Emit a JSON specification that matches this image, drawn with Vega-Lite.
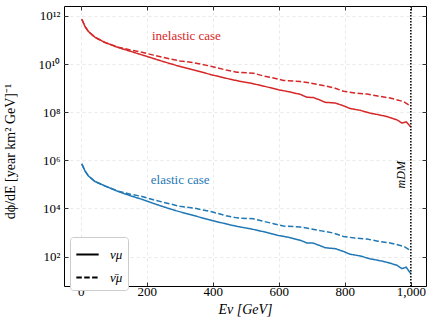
{
  "$schema": "https://vega.github.io/schema/vega-lite/v6.json",
  "width": 362,
  "height": 280,
  "autosize": "none",
  "padding": {"left": 64, "top": 6, "right": 1, "bottom": 36},
  "background": "white",
  "config": {
    "view": {"stroke": "black", "strokeWidth": 1},
    "font": "Liberation Serif",
    "axis": {
      "labelFont": "Liberation Serif", "titleFont": "Liberation Serif",
      "labelFontSize": 13, "titleFontSize": 14, "titleFontWeight": "normal",
      "labelColor": "black", "titleColor": "black",
      "domain": false, "tickColor": "black", "tickSize": -4, "tickWidth": 0.8,
      "gridColor": "#e3e3e3", "gridDash": [3, 3], "gridWidth": 0.8
    }
  },
  "datasets": {
    "curves": [
      {"E": 3, "log10_phi": 11.86, "case": "inelastic", "nu": "νμ"},
      {"E": 13, "log10_phi": 11.55, "case": "inelastic", "nu": "νμ"},
      {"E": 23, "log10_phi": 11.35, "case": "inelastic", "nu": "νμ"},
      {"E": 43, "log10_phi": 11.11, "case": "inelastic", "nu": "νμ"},
      {"E": 74, "log10_phi": 10.89, "case": "inelastic", "nu": "νμ"},
      {"E": 114, "log10_phi": 10.68, "case": "inelastic", "nu": "νμ"},
      {"E": 150, "log10_phi": 10.53, "case": "inelastic", "nu": "νμ"},
      {"E": 185, "log10_phi": 10.38, "case": "inelastic", "nu": "νμ"},
      {"E": 220, "log10_phi": 10.23, "case": "inelastic", "nu": "νμ"},
      {"E": 255, "log10_phi": 10.08, "case": "inelastic", "nu": "νμ"},
      {"E": 290, "log10_phi": 9.94, "case": "inelastic", "nu": "νμ"},
      {"E": 331, "log10_phi": 9.79, "case": "inelastic", "nu": "νμ"},
      {"E": 365, "log10_phi": 9.67, "case": "inelastic", "nu": "νμ"},
      {"E": 397, "log10_phi": 9.55, "case": "inelastic", "nu": "νμ"},
      {"E": 425, "log10_phi": 9.46, "case": "inelastic", "nu": "νμ"},
      {"E": 452, "log10_phi": 9.37, "case": "inelastic", "nu": "νμ"},
      {"E": 483, "log10_phi": 9.28, "case": "inelastic", "nu": "νμ"},
      {"E": 513, "log10_phi": 9.21, "case": "inelastic", "nu": "νμ"},
      {"E": 555, "log10_phi": 9.08, "case": "inelastic", "nu": "νμ"},
      {"E": 599, "log10_phi": 8.93, "case": "inelastic", "nu": "νμ"},
      {"E": 630, "log10_phi": 8.85, "case": "inelastic", "nu": "νμ"},
      {"E": 665, "log10_phi": 8.74, "case": "inelastic", "nu": "νμ"},
      {"E": 685, "log10_phi": 8.62, "case": "inelastic", "nu": "νμ"},
      {"E": 704, "log10_phi": 8.61, "case": "inelastic", "nu": "νμ"},
      {"E": 722, "log10_phi": 8.52, "case": "inelastic", "nu": "νμ"},
      {"E": 740, "log10_phi": 8.41, "case": "inelastic", "nu": "νμ"},
      {"E": 771, "log10_phi": 8.38, "case": "inelastic", "nu": "νμ"},
      {"E": 795, "log10_phi": 8.27, "case": "inelastic", "nu": "νμ"},
      {"E": 816, "log10_phi": 8.15, "case": "inelastic", "nu": "νμ"},
      {"E": 846, "log10_phi": 8.08, "case": "inelastic", "nu": "νμ"},
      {"E": 876, "log10_phi": 7.96, "case": "inelastic", "nu": "νμ"},
      {"E": 900, "log10_phi": 7.90, "case": "inelastic", "nu": "νμ"},
      {"E": 927, "log10_phi": 7.82, "case": "inelastic", "nu": "νμ"},
      {"E": 958, "log10_phi": 7.68, "case": "inelastic", "nu": "νμ"},
      {"E": 973, "log10_phi": 7.55, "case": "inelastic", "nu": "νμ"},
      {"E": 986, "log10_phi": 7.60, "case": "inelastic", "nu": "νμ"},
      {"E": 1000, "log10_phi": 7.38, "case": "inelastic", "nu": "νμ"},

      {"E": 3, "log10_phi": 11.86, "case": "inelastic", "nu": "ν̄μ"},
      {"E": 13, "log10_phi": 11.55, "case": "inelastic", "nu": "ν̄μ"},
      {"E": 23, "log10_phi": 11.35, "case": "inelastic", "nu": "ν̄μ"},
      {"E": 43, "log10_phi": 11.11, "case": "inelastic", "nu": "ν̄μ"},
      {"E": 74, "log10_phi": 10.89, "case": "inelastic", "nu": "ν̄μ"},
      {"E": 114, "log10_phi": 10.70, "case": "inelastic", "nu": "ν̄μ"},
      {"E": 150, "log10_phi": 10.58, "case": "inelastic", "nu": "ν̄μ"},
      {"E": 185, "log10_phi": 10.49, "case": "inelastic", "nu": "ν̄μ"},
      {"E": 220, "log10_phi": 10.37, "case": "inelastic", "nu": "ν̄μ"},
      {"E": 255, "log10_phi": 10.26, "case": "inelastic", "nu": "ν̄μ"},
      {"E": 300, "log10_phi": 10.13, "case": "inelastic", "nu": "ν̄μ"},
      {"E": 341, "log10_phi": 10.06, "case": "inelastic", "nu": "ν̄μ"},
      {"E": 397, "log10_phi": 9.90, "case": "inelastic", "nu": "ν̄μ"},
      {"E": 440, "log10_phi": 9.75, "case": "inelastic", "nu": "ν̄μ"},
      {"E": 473, "log10_phi": 9.66, "case": "inelastic", "nu": "ν̄μ"},
      {"E": 523, "log10_phi": 9.62, "case": "inelastic", "nu": "ν̄μ"},
      {"E": 552, "log10_phi": 9.51, "case": "inelastic", "nu": "ν̄μ"},
      {"E": 584, "log10_phi": 9.42, "case": "inelastic", "nu": "ν̄μ"},
      {"E": 614, "log10_phi": 9.32, "case": "inelastic", "nu": "ν̄μ"},
      {"E": 665, "log10_phi": 9.27, "case": "inelastic", "nu": "ν̄μ"},
      {"E": 695, "log10_phi": 9.21, "case": "inelastic", "nu": "ν̄μ"},
      {"E": 730, "log10_phi": 9.12, "case": "inelastic", "nu": "ν̄μ"},
      {"E": 765, "log10_phi": 9.02, "case": "inelastic", "nu": "ν̄μ"},
      {"E": 796, "log10_phi": 8.87, "case": "inelastic", "nu": "ν̄μ"},
      {"E": 830, "log10_phi": 8.80, "case": "inelastic", "nu": "ν̄μ"},
      {"E": 867, "log10_phi": 8.75, "case": "inelastic", "nu": "ν̄μ"},
      {"E": 900, "log10_phi": 8.67, "case": "inelastic", "nu": "ν̄μ"},
      {"E": 937, "log10_phi": 8.59, "case": "inelastic", "nu": "ν̄μ"},
      {"E": 978, "log10_phi": 8.44, "case": "inelastic", "nu": "ν̄μ"},
      {"E": 998, "log10_phi": 8.27, "case": "inelastic", "nu": "ν̄μ"},

      {"E": 3, "log10_phi": 5.85, "case": "elastic", "nu": "νμ"},
      {"E": 13, "log10_phi": 5.55, "case": "elastic", "nu": "νμ"},
      {"E": 23, "log10_phi": 5.35, "case": "elastic", "nu": "νμ"},
      {"E": 43, "log10_phi": 5.12, "case": "elastic", "nu": "νμ"},
      {"E": 74, "log10_phi": 4.93, "case": "elastic", "nu": "νμ"},
      {"E": 114, "log10_phi": 4.70, "case": "elastic", "nu": "νμ"},
      {"E": 150, "log10_phi": 4.53, "case": "elastic", "nu": "νμ"},
      {"E": 185, "log10_phi": 4.38, "case": "elastic", "nu": "νμ"},
      {"E": 220, "log10_phi": 4.21, "case": "elastic", "nu": "νμ"},
      {"E": 255, "log10_phi": 4.05, "case": "elastic", "nu": "νμ"},
      {"E": 290, "log10_phi": 3.90, "case": "elastic", "nu": "νμ"},
      {"E": 331, "log10_phi": 3.75, "case": "elastic", "nu": "νμ"},
      {"E": 365, "log10_phi": 3.62, "case": "elastic", "nu": "νμ"},
      {"E": 397, "log10_phi": 3.50, "case": "elastic", "nu": "νμ"},
      {"E": 425, "log10_phi": 3.41, "case": "elastic", "nu": "νμ"},
      {"E": 452, "log10_phi": 3.32, "case": "elastic", "nu": "νμ"},
      {"E": 483, "log10_phi": 3.23, "case": "elastic", "nu": "νμ"},
      {"E": 513, "log10_phi": 3.16, "case": "elastic", "nu": "νμ"},
      {"E": 555, "log10_phi": 3.03, "case": "elastic", "nu": "νμ"},
      {"E": 599, "log10_phi": 2.88, "case": "elastic", "nu": "νμ"},
      {"E": 630, "log10_phi": 2.80, "case": "elastic", "nu": "νμ"},
      {"E": 665, "log10_phi": 2.68, "case": "elastic", "nu": "νμ"},
      {"E": 685, "log10_phi": 2.57, "case": "elastic", "nu": "νμ"},
      {"E": 704, "log10_phi": 2.56, "case": "elastic", "nu": "νμ"},
      {"E": 722, "log10_phi": 2.47, "case": "elastic", "nu": "νμ"},
      {"E": 740, "log10_phi": 2.37, "case": "elastic", "nu": "νμ"},
      {"E": 771, "log10_phi": 2.33, "case": "elastic", "nu": "νμ"},
      {"E": 795, "log10_phi": 2.22, "case": "elastic", "nu": "νμ"},
      {"E": 816, "log10_phi": 2.10, "case": "elastic", "nu": "νμ"},
      {"E": 846, "log10_phi": 2.03, "case": "elastic", "nu": "νμ"},
      {"E": 876, "log10_phi": 1.91, "case": "elastic", "nu": "νμ"},
      {"E": 900, "log10_phi": 1.85, "case": "elastic", "nu": "νμ"},
      {"E": 927, "log10_phi": 1.77, "case": "elastic", "nu": "νμ"},
      {"E": 958, "log10_phi": 1.64, "case": "elastic", "nu": "νμ"},
      {"E": 973, "log10_phi": 1.50, "case": "elastic", "nu": "νμ"},
      {"E": 986, "log10_phi": 1.56, "case": "elastic", "nu": "νμ"},
      {"E": 1000, "log10_phi": 1.29, "case": "elastic", "nu": "νμ"},

      {"E": 3, "log10_phi": 5.85, "case": "elastic", "nu": "ν̄μ"},
      {"E": 13, "log10_phi": 5.55, "case": "elastic", "nu": "ν̄μ"},
      {"E": 23, "log10_phi": 5.35, "case": "elastic", "nu": "ν̄μ"},
      {"E": 43, "log10_phi": 5.12, "case": "elastic", "nu": "ν̄μ"},
      {"E": 74, "log10_phi": 4.93, "case": "elastic", "nu": "ν̄μ"},
      {"E": 114, "log10_phi": 4.72, "case": "elastic", "nu": "ν̄μ"},
      {"E": 150, "log10_phi": 4.59, "case": "elastic", "nu": "ν̄μ"},
      {"E": 185, "log10_phi": 4.50, "case": "elastic", "nu": "ν̄μ"},
      {"E": 220, "log10_phi": 4.36, "case": "elastic", "nu": "ν̄μ"},
      {"E": 255, "log10_phi": 4.24, "case": "elastic", "nu": "ν̄μ"},
      {"E": 300, "log10_phi": 4.09, "case": "elastic", "nu": "ν̄μ"},
      {"E": 341, "log10_phi": 4.02, "case": "elastic", "nu": "ν̄μ"},
      {"E": 397, "log10_phi": 3.86, "case": "elastic", "nu": "ν̄μ"},
      {"E": 440, "log10_phi": 3.70, "case": "elastic", "nu": "ν̄μ"},
      {"E": 473, "log10_phi": 3.61, "case": "elastic", "nu": "ν̄μ"},
      {"E": 523, "log10_phi": 3.57, "case": "elastic", "nu": "ν̄μ"},
      {"E": 552, "log10_phi": 3.47, "case": "elastic", "nu": "ν̄μ"},
      {"E": 584, "log10_phi": 3.37, "case": "elastic", "nu": "ν̄μ"},
      {"E": 614, "log10_phi": 3.27, "case": "elastic", "nu": "ν̄μ"},
      {"E": 665, "log10_phi": 3.23, "case": "elastic", "nu": "ν̄μ"},
      {"E": 695, "log10_phi": 3.16, "case": "elastic", "nu": "ν̄μ"},
      {"E": 730, "log10_phi": 3.07, "case": "elastic", "nu": "ν̄μ"},
      {"E": 765, "log10_phi": 2.98, "case": "elastic", "nu": "ν̄μ"},
      {"E": 796, "log10_phi": 2.84, "case": "elastic", "nu": "ν̄μ"},
      {"E": 830, "log10_phi": 2.77, "case": "elastic", "nu": "ν̄μ"},
      {"E": 867, "log10_phi": 2.73, "case": "elastic", "nu": "ν̄μ"},
      {"E": 900, "log10_phi": 2.64, "case": "elastic", "nu": "ν̄μ"},
      {"E": 937, "log10_phi": 2.57, "case": "elastic", "nu": "ν̄μ"},
      {"E": 978, "log10_phi": 2.43, "case": "elastic", "nu": "ν̄μ"},
      {"E": 998, "log10_phi": 2.26, "case": "elastic", "nu": "ν̄μ"}
    ],
    "labels": [
      {"E": 320, "log10_phi": 11.17, "case": "inelastic", "label": "inelastic case"},
      {"E": 301, "log10_phi": 5.18, "case": "elastic", "label": "elastic case"}
    ],
    "mass": [
      {"E": 1000, "log10_phi": 5.4, "label": "mDM"}
    ]
  },
  "resolve": {"axis": {"x": "independent", "y": "independent"}},
  "layer": [
    {
      "data": {"name": "curves"},
      "mark": {"type": "line", "strokeWidth": 1.5},
      "encoding": {
        "x": {"field": "E", "type": "quantitative",
              "scale": {"domain": [-51, 1046], "nice": false, "zero": false},
              "axis": {"orient": "bottom", "values": [0, 200, 400, 600, 800, 1000], "labelPadding": 3, "title": "Eν [GeV]", "titlePadding": 4, "titleFontStyle": "italic", "grid": true}},
        "y": {"field": "log10_phi", "type": "quantitative",
              "scale": {"domain": [0.78, 12.41], "nice": false, "zero": false},
              "axis": {"orient": "left", "values": [2, 4, 6, 8, 10, 12], "labelPadding": 8, "grid": true,
                       "labelExpr": "datum.value==2?'10²':datum.value==4?'10⁴':datum.value==6?'10⁶':datum.value==8?'10⁸':datum.value==10?'10¹⁰':'10¹²'",
                       "title": "dϕ/dE [year km² GeV]⁻¹", "titleX": -47, "titleY": 145}},
        "color": {"field": "case", "type": "nominal",
                  "scale": {"domain": ["inelastic", "elastic"], "range": ["#d62728", "#1f77b4"]}, "legend": null},
        "strokeDash": {"field": "nu", "type": "nominal",
                       "scale": {"domain": ["νμ", "ν̄μ"], "range": [[1, 0], [5.5, 2.4]]},
                       "legend": {"title": null, "orient": "none", "legendX": 6, "legendY": 231,
                                  "symbolType": "stroke", "symbolSize": 500, "symbolStrokeWidth": 2,
                                  "symbolStrokeColor": "black", "labelFont": "Liberation Serif",
                                  "labelFontSize": 13, "labelFontStyle": "italic", "labelColor": "black",
                                  "padding": 5, "rowPadding": 3, "fillColor": "white",
                                  "strokeColor": "#cccccc", "cornerRadius": 3, "labelOffset": 10}},
        "detail": {"field": "case"}
      }
    },
    {
      "data": {"name": "mass"},
      "mark": {"type": "rule", "color": "black", "strokeWidth": 1.5, "strokeDash": [1.5, 1.5]},
      "encoding": {
        "x": {"field": "E", "type": "quantitative",
              "axis": {"orient": "top", "values": [0, 200, 400, 600, 800, 1000], "labels": false, "title": null, "grid": false}}
      }
    },
    {
      "data": {"name": "labels"},
      "mark": {"type": "text", "font": "Liberation Serif", "fontSize": 13},
      "encoding": {
        "x": {"field": "E", "type": "quantitative", "axis": null},
        "y": {"field": "log10_phi", "type": "quantitative",
              "axis": {"orient": "right", "values": [2, 4, 6, 8, 10, 12], "labels": false, "title": null, "grid": false}},
        "text": {"field": "label"},
        "color": {"field": "case", "type": "nominal", "legend": null}
      }
    },
    {
      "data": {"name": "mass"},
      "mark": {"type": "text", "font": "Liberation Serif", "fontSize": 12, "fontStyle": "italic", "angle": 270, "dy": -10, "color": "black"},
      "encoding": {
        "x": {"field": "E", "type": "quantitative", "axis": null},
        "y": {"field": "log10_phi", "type": "quantitative", "axis": null},
        "text": {"field": "label"}
      }
    }
  ]
}
